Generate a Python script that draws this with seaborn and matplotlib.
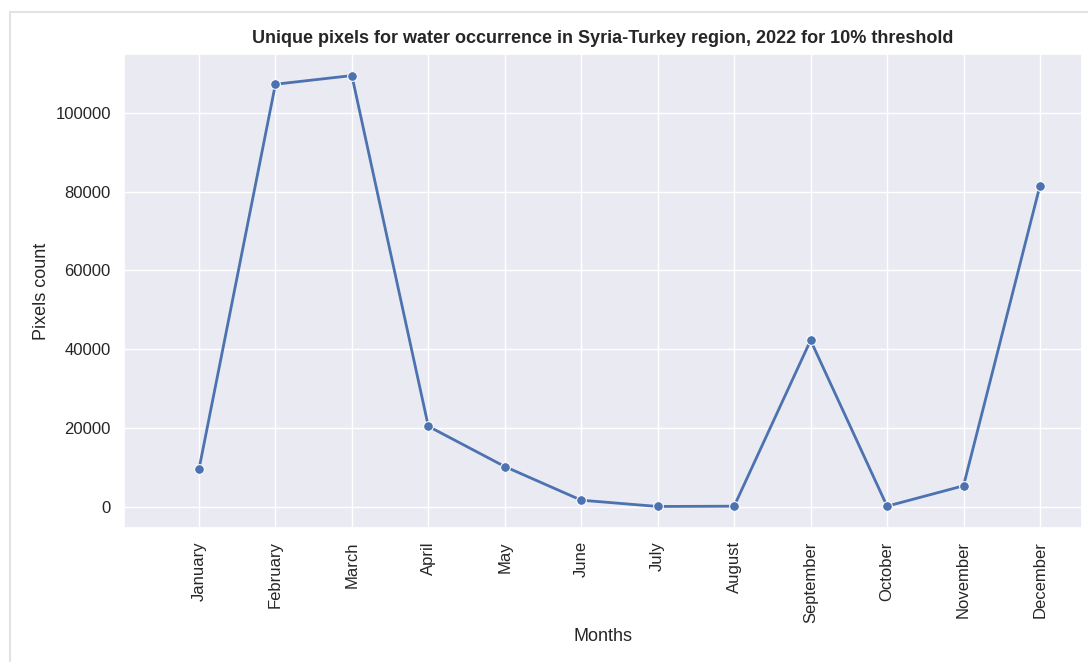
import matplotlib
matplotlib.use("Agg")
import matplotlib.pyplot as plt
import seaborn as sns
import pandas as pd
from matplotlib.patches import Rectangle

months = ["January", "February", "March", "April", "May", "June", "July",
          "August", "September", "October", "November", "December"]
pixel_counts = [9600, 107200, 109400, 20500, 10300, 1770, 180, 250,
                42300, 250, 5420, 81500]

sns.set_theme(style="darkgrid")
plt.rcParams['font.family'] = ['Liberation Sans', 'DejaVu Sans']

df = pd.DataFrame({"Months": months, "Pixels count": pixel_counts})

fig = plt.figure(figsize=(10.88, 6.62), dpi=100)
ax = fig.add_axes([0.114, 0.2024, 0.8805, 0.716])

sns.lineplot(data=df, x="Months", y="Pixels count", marker="o",
             markersize=7, linewidth=2, ax=ax, sort=False)

ax.set_xlim(-0.98, 11.55)
ax.set_title("Unique pixels for water occurrence in Syria-Turkey region, 2022 for 10% threshold",
             fontsize=13, fontweight="bold", pad=8)
ax.set_xlabel("Months", fontsize=13)
ax.set_ylabel("Pixels count", fontsize=13)
ax.tick_params(axis="x", labelrotation=90, labelsize=12)
ax.tick_params(axis="y", labelsize=12)

# light frame around the figure (as in the screenshot)
fig.patches.append(Rectangle((10 / 1088, -0.1), 1.2, (650 / 662) + 0.1,
                             transform=fig.transFigure, fill=False,
                             edgecolor="#e3e3e3", linewidth=1.5))

fig.savefig("out.png", dpi=100)
